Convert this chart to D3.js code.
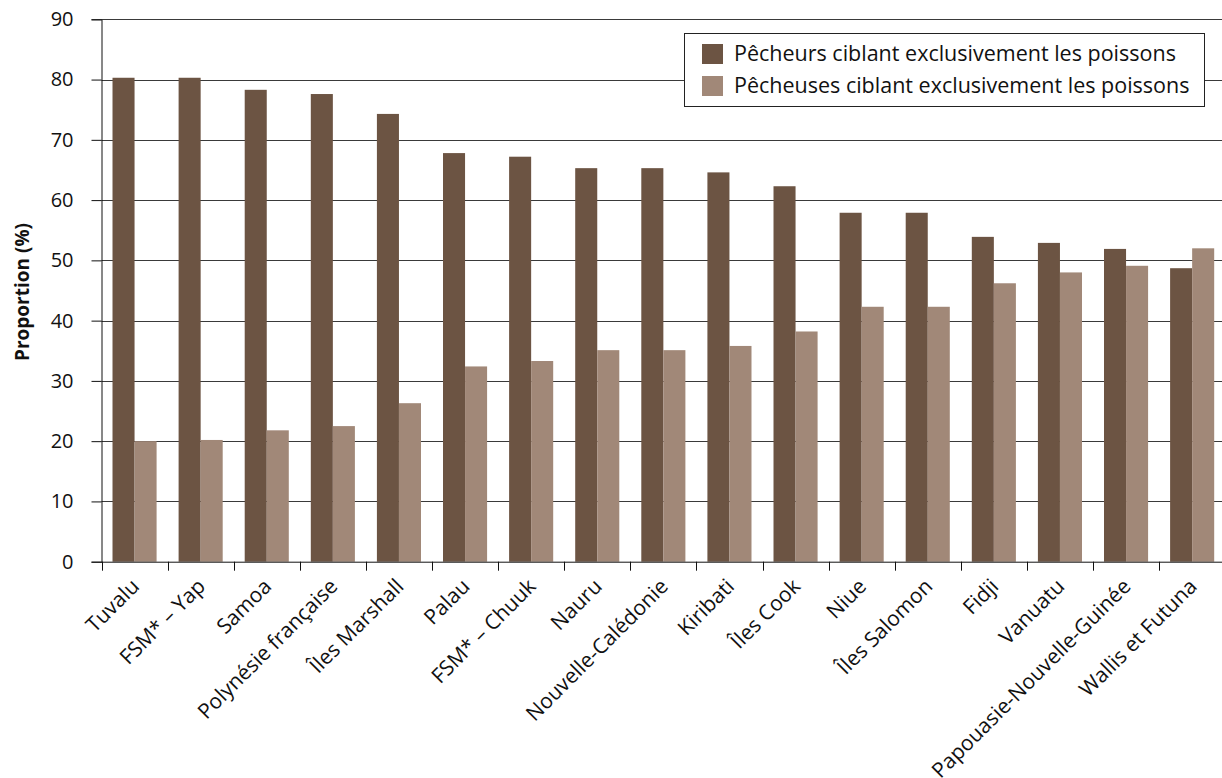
<!DOCTYPE html>
<html lang="fr">
<head>
<meta charset="utf-8">
<title>Proportion des pêcheurs ciblant exclusivement les poissons</title>
<script src="https://d3js.org/d3.v7.min.js"></script>
<style>
  body { margin: 0; background: #fff; }
  svg text { font-family: "Open Sans", "Noto Sans", sans-serif; fill: #111; }
</style>
</head>
<body>
<div id="chart"></div>
<script>
// data
var countries = ["Tuvalu", "FSM* – Yap", "Samoa", "Polynésie française", "Îles Marshall",
  "Palau", "FSM* – Chuuk", "Nauru", "Nouvelle-Calédonie", "Kiribati", "Îles Cook",
  "Niue", "Îles Salomon", "Fidji", "Vanuatu", "Papouasie-Nouvelle-Guinée", "Wallis et Futuna"];
var men = [80.3, 80.3, 78.3, 77.6, 74.3, 67.8, 67.2, 65.3, 65.3, 64.6, 62.3, 57.9, 57.9, 53.9, 52.9, 51.9, 48.7];
var women = [20.0, 20.2, 21.8, 22.5, 26.3, 32.4, 33.3, 35.1, 35.1, 35.8, 38.2, 42.3, 42.3, 46.2, 48.0, 49.1, 52.0];
var seriesNames = ["Pêcheurs ciblant exclusivement les poissons", "Pêcheuses ciblant exclusivement les poissons"];
var colors = ["#6c5443", "#a18878"];
var yTicks = [0, 10, 20, 30, 40, 50, 60, 70, 80, 90];

var W = 1222, H = 778;
var plotLeft = 101.5, plotTop = 19.3, plotBottom = 561.7, band = 66.1;

var svg = d3.select("#chart").append("svg")
  .attr("width", W).attr("height", H);

var x = d3.scaleBand()
  .domain(countries)
  .range([plotLeft, plotLeft + band * countries.length])
  .paddingInner(0.333)
  .paddingOuter(0.1665);

var x1 = d3.scaleBand()
  .domain([0, 1])
  .range([0, x.bandwidth()]);

var y = d3.scaleLinear()
  .domain([0, 90])
  .range([plotBottom, plotTop]);

// gridlines
svg.append("g")
  .selectAll("line")
  .data(yTicks.filter(function (d) { return d > 0; }))
  .enter().append("line")
  .attr("x1", plotLeft).attr("x2", W)
  .attr("y1", function (d) { return Math.round(y(d)) + 0.5; })
  .attr("y2", function (d) { return Math.round(y(d)) + 0.5; })
  .attr("stroke", "#3a3a3a")
  .attr("stroke-width", 1);

// bars
var groups = svg.append("g")
  .selectAll("g")
  .data(countries)
  .enter().append("g")
  .attr("transform", function (d) { return "translate(" + x(d) + ",0)"; });

groups.selectAll("rect")
  .data(function (d, i) { return [men[i], women[i]]; })
  .enter().append("rect")
  .attr("x", function (d, j) { return x1(j); })
  .attr("width", x1.bandwidth())
  .attr("y", function (d) { return y(d); })
  .attr("height", function (d) { return y(0) - y(d); })
  .attr("fill", function (d, j) { return colors[j]; });

// y axis
var yAxis = svg.append("g")
  .attr("transform", "translate(" + plotLeft + ",0)")
  .call(d3.axisLeft(y).tickValues(yTicks).tickSize(10).tickPadding(18));
yAxis.select(".domain").attr("stroke", "#111");
yAxis.selectAll(".tick line").attr("stroke", "#111");
yAxis.selectAll("text").style("font-size", "20px").attr("fill", "#111");

// x axis
var xAxis = svg.append("g")
  .attr("transform", "translate(0," + plotBottom + ")");
xAxis.append("line")
  .attr("x1", plotLeft).attr("x2", W)
  .attr("y1", 0.5).attr("y2", 0.5)
  .attr("stroke", "#111");
xAxis.selectAll(".xtick")
  .data(d3.range(countries.length + 1))
  .enter().append("line")
  .attr("x1", function (k) { return Math.round(plotLeft + k * band) + 0.5; })
  .attr("x2", function (k) { return Math.round(plotLeft + k * band) + 0.5; })
  .attr("y1", 0).attr("y2", 9)
  .attr("stroke", "#111");
xAxis.selectAll(".xlabel")
  .data(countries)
  .enter().append("text")
  .attr("transform", function (d) {
    return "translate(" + (x(d) + x.bandwidth() / 2 + 6) + ",26) rotate(-45)";
  })
  .attr("text-anchor", "end")
  .style("font-size", "21px")
  .text(function (d) { return d; });

// y axis title
svg.append("text")
  .attr("transform", "translate(29,292) rotate(-90)")
  .attr("text-anchor", "middle")
  .style("font-size", "19px")
  .style("font-weight", "bold")
  .text("Proportion (%)");

// legend
var legend = svg.append("g").attr("transform", "translate(684,33)");
legend.append("rect")
  .attr("x", 0.5).attr("y", 0.5)
  .attr("width", 520).attr("height", 73)
  .attr("fill", "#fff")
  .attr("stroke", "#222");
var items = legend.selectAll(".item")
  .data(seriesNames)
  .enter().append("g")
  .attr("transform", function (d, i) { return "translate(18," + (11 + i * 32) + ")"; });
items.append("rect")
  .attr("width", 21).attr("height", 20)
  .attr("fill", function (d, i) { return colors[i]; });
items.append("text")
  .attr("x", 32).attr("y", 17)
  .style("font-size", "21.5px")
  .text(function (d) { return d; });
</script>
</body>
</html>
